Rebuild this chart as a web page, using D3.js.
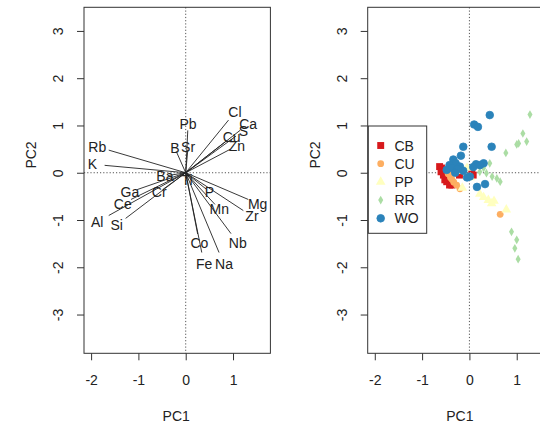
<!DOCTYPE html>
<html><head><meta charset="utf-8">
<script src="https://cdn.jsdelivr.net/npm/d3@7"></script>
<style>body{margin:0;background:#fff}svg{display:block}text{font-family:"Liberation Sans",Arial,sans-serif}</style>
</head><body><svg id="c" width="540" height="428"></svg>
<script>
// Loadings (label positions, PC1/PC2)
const varNames = ["Cl","Ca","S","Cu","Zn","Pb","Sr","B","Rb","K","Ba","Ti","P","Mg","Zr","Mn","Nb","Co","Fe","Na","Ga","Cr","Ce","Al","Si"];
const loadX = [1.04,1.32,1.22,0.97,1.08,0.05,0.05,-0.23,-1.87,-1.97,-0.44,0.03,0.50,1.52,1.40,0.71,1.10,0.29,0.39,0.81,-1.18,-0.56,-1.33,-1.87,-1.46];
const loadY = [1.28,1.03,0.89,0.76,0.57,1.03,0.55,0.52,0.55,0.18,-0.07,-0.15,-0.40,-0.65,-0.92,-0.77,-1.48,-1.49,-1.94,-1.94,-0.41,-0.41,-0.65,-1.04,-1.11];
// Scores by group
const groups = ["CB","CU","PP","RR","WO"];
const colors = ["#D7191C","#FDAE61","#FFFFBF","#ABDDA4","#2B83BA"];
const cbPts = [[-0.63,0.13],[-0.59,0.10],[-0.55,-0.05],[-0.52,-0.15],[-0.48,-0.19],[-0.42,-0.26],[-0.37,-0.26],[-0.21,-0.05],[0.08,-0.05],[0.05,-0.01],[-0.60,0.02]];
const cuPts = [[-0.40,-0.10],[-0.37,-0.14],[-0.33,-0.20],[-0.27,-0.26],[-0.20,-0.34],[0.65,-0.88],[-0.45,-0.02]];
const ppPts = [[-0.22,0.03],[0.02,-0.10],[-0.15,-0.32],[0.22,-0.45],[0.30,-0.52],[0.40,-0.58],[0.47,-0.65],[0.52,-0.60],[0.78,-0.78],[0.10,0.15],[-0.05,0.10]];
const rrPts = [[1.28,1.23],[1.13,0.83],[1.21,0.66],[1.04,0.62],[1.00,0.60],[0.77,0.42],[0.43,0.20],[0.22,0.02],[0.36,-0.01],[0.48,-0.08],[0.58,-0.12],[0.65,-0.19],[0.89,-1.25],[1.00,-1.42],[0.96,-1.60],[1.03,-1.83],[0.30,0.10]];
const woPts = [[0.43,1.22],[0.10,1.02],[0.18,0.97],[-0.13,0.55],[0.47,0.55],[-0.18,0.36],[-0.34,0.28],[-0.29,0.20],[-0.42,0.16],[-0.20,0.13],[-0.48,0.06],[-0.13,0.04],[0.14,0.18],[0.30,0.20],[0.01,-0.08],[0.16,-0.30],[0.33,-0.24],[-0.36,0.10],[-0.25,0.08],[0.08,0.12],[0.22,0.16],[-0.05,-0.10],[-0.30,0.00]];
const groupPts = [cbPts,cuPts,ppPts,rrPts,woPts];
const xTicks = [-2,-1,0,1];
const yTicks = [-3,-2,-1,0,1,2,3];
const xDom = [-2.15,1.79], yDom = [-3.82,3.50];

const svg = d3.select("#c");
const pTop = 7.3, pBottom = 353.3, pw = 186.4;
const y = d3.scaleLinear().domain(yDom).range([pBottom, pTop]);
const ink = "#333";

function panel(left){
  const x = d3.scaleLinear().domain(xDom).range([left, left+pw]);
  const g = svg.append("g");
  g.append("line").attr("x1",x(0)).attr("x2",x(0)).attr("y1",pTop).attr("y2",pBottom)
    .attr("stroke","#555").attr("stroke-dasharray","1.2,2");
  g.append("line").attr("x1",left).attr("x2",left+pw).attr("y1",y(0)).attr("y2",y(0))
    .attr("stroke","#555").attr("stroke-dasharray","1.2,2");
  const ax = g.append("g").attr("transform",`translate(0,${pBottom})`)
    .call(d3.axisBottom(x).tickValues(xTicks).tickSize(7).tickSizeOuter(0).tickFormat(d=>String(d)));
  ax.select(".domain").remove();
  ax.selectAll("line").attr("stroke",ink);
  ax.selectAll("text").attr("y",22).attr("dy","0.71em").attr("font-size",14).attr("fill","#222");
  const ay = g.append("g").attr("transform",`translate(${left},0)`)
    .call(d3.axisLeft(y).tickValues(yTicks).tickSize(7).tickSizeOuter(0).tickFormat(d=>String(d)));
  ay.select(".domain").remove();
  ay.selectAll("line").attr("stroke",ink);
  ay.selectAll("text").attr("x",0).attr("y",-20.7).attr("dy",0).attr("text-anchor","middle")
    .attr("transform","rotate(-90)").attr("font-size",14).attr("fill","#222");
  g.append("text").attr("x",left+pw/2-1).attr("y",421).attr("text-anchor","middle")
    .attr("font-size",14).attr("fill","#222").text("PC1");
  g.append("text").attr("transform",`translate(${left-53},155) rotate(-90)`).attr("text-anchor","middle")
    .attr("dy","0.36em").attr("font-size",14).attr("fill","#222").text("PC2");
  return {x,g};
}

// Left panel: biplot arrows
const L = panel(84);
varNames.forEach((n,i)=>{
  L.g.append("line").attr("x1",L.x(0)).attr("y1",y(0))
    .attr("x2",L.x(loadX[i]*0.87)).attr("y2",y(loadY[i]*0.87))
    .attr("stroke","#222").attr("stroke-width",0.9);
});
varNames.forEach((n,i)=>{
  L.g.append("text").attr("x",L.x(loadX[i])).attr("y",y(loadY[i])).attr("dy","0.36em")
    .attr("text-anchor","middle").attr("font-size",14).attr("fill","#222").text(n);
});
L.g.append("rect").attr("x",84).attr("y",pTop).attr("width",pw).attr("height",pBottom-pTop)
  .attr("fill","none").attr("stroke",ink);

// Right panel: scores
const R = panel(367.7);
const sym = [d3.symbolSquare, d3.symbolCircle, d3.symbolTriangle, d3.symbolDiamond, d3.symbolCircle];
const sz = [48, 36, 40, 22, 46];
function drawSym(g, k, cx, cy){
  g.append("path").attr("d", d3.symbol().type(sym[k]).size(sz[k])())
    .attr("transform",`translate(${cx},${cy})`).attr("fill",colors[k])
    .attr("stroke", k===4 ? colors[k] : "none").attr("stroke-width",0.8);
}
groupPts.forEach((pts,k)=>{
  pts.forEach(p=>drawSym(R.g,k,R.x(p[0]),y(p[1])));
});
R.g.append("rect").attr("x",367.7).attr("y",pTop).attr("width",pw).attr("height",pBottom-pTop)
  .attr("fill","none").attr("stroke",ink);
const lg = R.g.append("g");
lg.append("rect").attr("x",368.3).attr("y",126).attr("width",58.4).attr("height",107.3)
  .attr("fill","#fff").attr("stroke",ink);
groups.forEach((gname,k)=>{
  const ly = 145.5 + k*18.2;
  drawSym(lg,k,380.7,ly);
  lg.append("text").attr("x",394.5).attr("y",ly).attr("dy","0.36em")
    .attr("font-size",14).attr("fill","#222").text(gname);
});
</script></body></html>
